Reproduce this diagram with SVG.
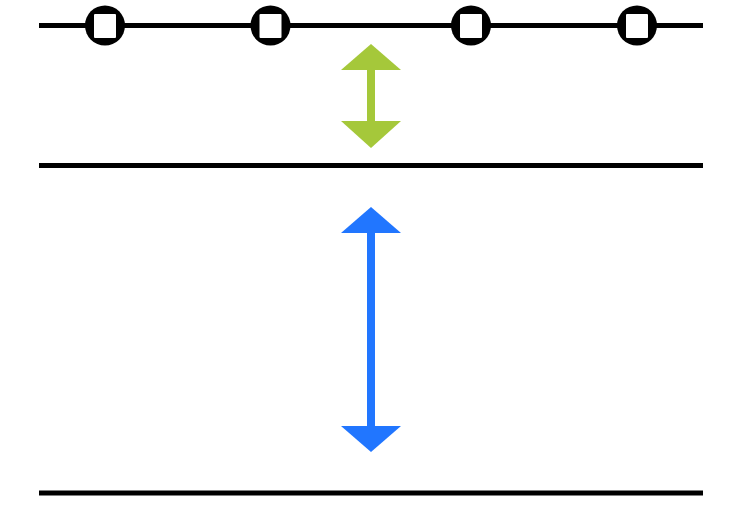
<svg xmlns="http://www.w3.org/2000/svg" width="750" height="525" viewBox="0 0 750 525">
  <style>
    .rail { stroke: #000; stroke-width: 5; fill: none; }
    .ring { fill: #000; }
    .hole { fill: #fff; }
    .green { fill: #a5c83a; }
    .blue { fill: #2176ff; }
  </style>
  <rect width="750" height="525" fill="#fff"/>
  <g id="connectors">
    <line class="rail" x1="39" y1="25.5" x2="703" y2="25.5"/>
    <line class="rail" x1="39" y1="165.5" x2="703" y2="165.5"/>
    <line class="rail" x1="39" y1="493" x2="703" y2="493"/>
    <!-- short double arrow -->
    <g id="arrow-green" class="green">
      <polygon points="371,44 401,70 341,70"/>
      <rect x="367" y="69" width="8" height="53"/>
      <polygon points="341,121 401,121 371,148"/>
    </g>
    <!-- long double arrow -->
    <g id="arrow-blue" class="blue">
      <polygon points="371,207 401,233 341,233"/>
      <rect x="367" y="232" width="8" height="195"/>
      <polygon points="341,426 401,426 371,452"/>
    </g>
  </g>
  <g id="node-1"><circle class="ring" cx="105" cy="25.5" r="20"/><rect class="hole" x="94" y="14" width="22" height="24" rx="1"/></g>
  <g id="node-2"><circle class="ring" cx="270.5" cy="25.5" r="20"/><rect class="hole" x="259.5" y="14" width="22" height="24" rx="1"/></g>
  <g id="node-3"><circle class="ring" cx="471" cy="25.5" r="20"/><rect class="hole" x="460" y="14" width="22" height="24" rx="1"/></g>
  <g id="node-4"><circle class="ring" cx="637" cy="25.5" r="20"/><rect class="hole" x="626" y="14" width="22" height="24" rx="1"/></g>
</svg>
